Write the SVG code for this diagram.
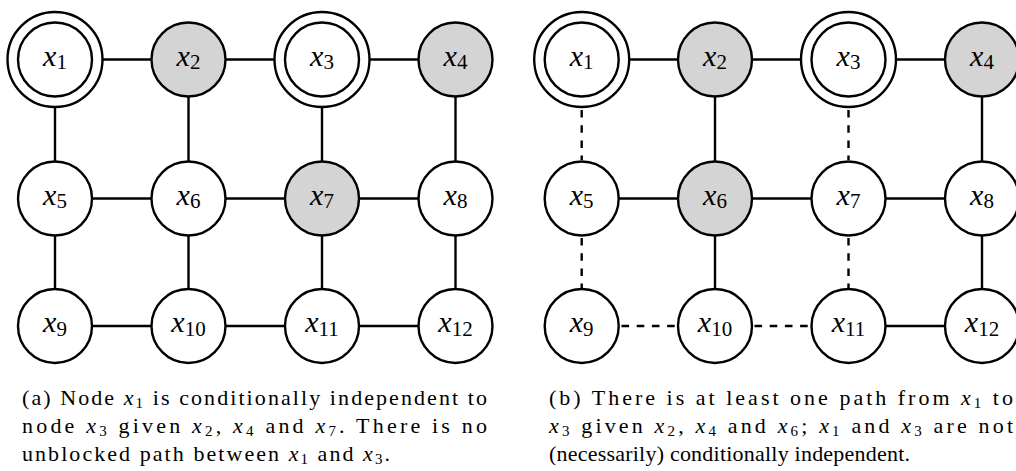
<svg xmlns="http://www.w3.org/2000/svg" width="1016" height="471" viewBox="0 0 1016 471">
<defs>
<circle id="ring" r="47.5" fill="#fff" stroke="#000" stroke-width="2.4"/>
<circle id="plain" r="37" fill="#fff" stroke="#000" stroke-width="2.4"/>
<circle id="shade" r="37" fill="#d4d4d4" stroke="#000" stroke-width="2.4"/>
</defs>
<g id="connectors" stroke="#000" stroke-width="2.4" fill="none">
 <line x1="103" y1="59.5" x2="151.5" y2="59.5"/>
 <line x1="225.5" y1="59.5" x2="274" y2="59.5"/>
 <line x1="370" y1="59.5" x2="418.5" y2="59.5"/>
 <line x1="55" y1="107.5" x2="55" y2="161.5"/>
 <line x1="188.5" y1="96.5" x2="188.5" y2="161.5"/>
 <line x1="322" y1="107.5" x2="322" y2="161.5"/>
 <line x1="455.5" y1="96.5" x2="455.5" y2="161.5"/>
 <line x1="92" y1="198.5" x2="151.5" y2="198.5"/>
 <line x1="225.5" y1="198.5" x2="285" y2="198.5"/>
 <line x1="359" y1="198.5" x2="418.5" y2="198.5"/>
 <line x1="55" y1="235.5" x2="55" y2="289"/>
 <line x1="188.5" y1="235.5" x2="188.5" y2="289"/>
 <line x1="322" y1="235.5" x2="322" y2="289"/>
 <line x1="455.5" y1="235.5" x2="455.5" y2="289"/>
 <line x1="92" y1="326" x2="151.5" y2="326"/>
 <line x1="225.5" y1="326" x2="285" y2="326"/>
 <line x1="359" y1="326" x2="418.5" y2="326"/>
 <line x1="629.7" y1="59.5" x2="678" y2="59.5"/>
 <line x1="752" y1="59.5" x2="800.5" y2="59.5"/>
 <line x1="896.5" y1="59.5" x2="945" y2="59.5"/>
 <line x1="715" y1="96.5" x2="715" y2="161.5"/>
 <line x1="982" y1="96.5" x2="982" y2="161.5"/>
 <line x1="618.7" y1="198.5" x2="678" y2="198.5"/>
 <line x1="752" y1="198.5" x2="811.5" y2="198.5"/>
 <line x1="885.5" y1="198.5" x2="945" y2="198.5"/>
 <line x1="715" y1="235.5" x2="715" y2="289"/>
 <line x1="982" y1="235.5" x2="982" y2="289"/>
 <line x1="885.5" y1="326" x2="945" y2="326"/>
 <g stroke-dasharray="7.6 7.6">
  <line x1="581.7" y1="110" x2="581.7" y2="160"/>
  <line x1="848.5" y1="110" x2="848.5" y2="160"/>
  <line x1="581.7" y1="238" x2="581.7" y2="288"/>
  <line x1="848.5" y1="238" x2="848.5" y2="288"/>
  <line x1="621.5" y1="326" x2="676" y2="326"/>
  <line x1="754.5" y1="326" x2="809" y2="326"/>
 </g>
</g>
<g id="a_x1"><use href="#ring" x="55" y="59.5"/><use href="#plain" x="55" y="59.5"/><text font-family="Liberation Serif, serif" font-size="30" text-anchor="middle" x="55" y="65.5"><tspan font-style="italic">x</tspan><tspan font-size="21" dy="3.5">1</tspan></text></g>
<g id="a_x2"><use href="#shade" x="188.5" y="59.5"/><text font-family="Liberation Serif, serif" font-size="30" text-anchor="middle" x="188.5" y="65.5"><tspan font-style="italic">x</tspan><tspan font-size="21" dy="3.5">2</tspan></text></g>
<g id="a_x3"><use href="#ring" x="322" y="59.5"/><use href="#plain" x="322" y="59.5"/><text font-family="Liberation Serif, serif" font-size="30" text-anchor="middle" x="322" y="65.5"><tspan font-style="italic">x</tspan><tspan font-size="21" dy="3.5">3</tspan></text></g>
<g id="a_x4"><use href="#shade" x="455.5" y="59.5"/><text font-family="Liberation Serif, serif" font-size="30" text-anchor="middle" x="455.5" y="65.5"><tspan font-style="italic">x</tspan><tspan font-size="21" dy="3.5">4</tspan></text></g>
<g id="a_x5"><use href="#plain" x="55" y="198.5"/><text font-family="Liberation Serif, serif" font-size="30" text-anchor="middle" x="55" y="204.5"><tspan font-style="italic">x</tspan><tspan font-size="21" dy="3.5">5</tspan></text></g>
<g id="a_x6"><use href="#plain" x="188.5" y="198.5"/><text font-family="Liberation Serif, serif" font-size="30" text-anchor="middle" x="188.5" y="204.5"><tspan font-style="italic">x</tspan><tspan font-size="21" dy="3.5">6</tspan></text></g>
<g id="a_x7"><use href="#shade" x="322" y="198.5"/><text font-family="Liberation Serif, serif" font-size="30" text-anchor="middle" x="322" y="204.5"><tspan font-style="italic">x</tspan><tspan font-size="21" dy="3.5">7</tspan></text></g>
<g id="a_x8"><use href="#plain" x="455.5" y="198.5"/><text font-family="Liberation Serif, serif" font-size="30" text-anchor="middle" x="455.5" y="204.5"><tspan font-style="italic">x</tspan><tspan font-size="21" dy="3.5">8</tspan></text></g>
<g id="a_x9"><use href="#plain" x="55" y="326"/><text font-family="Liberation Serif, serif" font-size="30" text-anchor="middle" x="55" y="332"><tspan font-style="italic">x</tspan><tspan font-size="21" dy="3.5">9</tspan></text></g>
<g id="a_x10"><use href="#plain" x="188.5" y="326"/><text font-family="Liberation Serif, serif" font-size="30" text-anchor="middle" x="188.5" y="332"><tspan font-style="italic">x</tspan><tspan font-size="21" dy="3.5">10</tspan></text></g>
<g id="a_x11"><use href="#plain" x="322" y="326"/><text font-family="Liberation Serif, serif" font-size="30" text-anchor="middle" x="322" y="332"><tspan font-style="italic">x</tspan><tspan font-size="21" dy="3.5">11</tspan></text></g>
<g id="a_x12"><use href="#plain" x="455.5" y="326"/><text font-family="Liberation Serif, serif" font-size="30" text-anchor="middle" x="455.5" y="332"><tspan font-style="italic">x</tspan><tspan font-size="21" dy="3.5">12</tspan></text></g>
<g id="b_x1"><use href="#ring" x="581.7" y="59.5"/><use href="#plain" x="581.7" y="59.5"/><text font-family="Liberation Serif, serif" font-size="30" text-anchor="middle" x="581.7" y="65.5"><tspan font-style="italic">x</tspan><tspan font-size="21" dy="3.5">1</tspan></text></g>
<g id="b_x2"><use href="#shade" x="715" y="59.5"/><text font-family="Liberation Serif, serif" font-size="30" text-anchor="middle" x="715" y="65.5"><tspan font-style="italic">x</tspan><tspan font-size="21" dy="3.5">2</tspan></text></g>
<g id="b_x3"><use href="#ring" x="848.5" y="59.5"/><use href="#plain" x="848.5" y="59.5"/><text font-family="Liberation Serif, serif" font-size="30" text-anchor="middle" x="848.5" y="65.5"><tspan font-style="italic">x</tspan><tspan font-size="21" dy="3.5">3</tspan></text></g>
<g id="b_x4"><use href="#shade" x="982" y="59.5"/><text font-family="Liberation Serif, serif" font-size="30" text-anchor="middle" x="982" y="65.5"><tspan font-style="italic">x</tspan><tspan font-size="21" dy="3.5">4</tspan></text></g>
<g id="b_x5"><use href="#plain" x="581.7" y="198.5"/><text font-family="Liberation Serif, serif" font-size="30" text-anchor="middle" x="581.7" y="204.5"><tspan font-style="italic">x</tspan><tspan font-size="21" dy="3.5">5</tspan></text></g>
<g id="b_x6"><use href="#shade" x="715" y="198.5"/><text font-family="Liberation Serif, serif" font-size="30" text-anchor="middle" x="715" y="204.5"><tspan font-style="italic">x</tspan><tspan font-size="21" dy="3.5">6</tspan></text></g>
<g id="b_x7"><use href="#plain" x="848.5" y="198.5"/><text font-family="Liberation Serif, serif" font-size="30" text-anchor="middle" x="848.5" y="204.5"><tspan font-style="italic">x</tspan><tspan font-size="21" dy="3.5">7</tspan></text></g>
<g id="b_x8"><use href="#plain" x="982" y="198.5"/><text font-family="Liberation Serif, serif" font-size="30" text-anchor="middle" x="982" y="204.5"><tspan font-style="italic">x</tspan><tspan font-size="21" dy="3.5">8</tspan></text></g>
<g id="b_x9"><use href="#plain" x="581.7" y="326"/><text font-family="Liberation Serif, serif" font-size="30" text-anchor="middle" x="581.7" y="332"><tspan font-style="italic">x</tspan><tspan font-size="21" dy="3.5">9</tspan></text></g>
<g id="b_x10"><use href="#plain" x="715" y="326"/><text font-family="Liberation Serif, serif" font-size="30" text-anchor="middle" x="715" y="332"><tspan font-style="italic">x</tspan><tspan font-size="21" dy="3.5">10</tspan></text></g>
<g id="b_x11"><use href="#plain" x="848.5" y="326"/><text font-family="Liberation Serif, serif" font-size="30" text-anchor="middle" x="848.5" y="332"><tspan font-style="italic">x</tspan><tspan font-size="21" dy="3.5">11</tspan></text></g>
<g id="b_x12"><use href="#plain" x="982" y="326"/><text font-family="Liberation Serif, serif" font-size="30" text-anchor="middle" x="982" y="332"><tspan font-style="italic">x</tspan><tspan font-size="21" dy="3.5">12</tspan></text></g>
<g id="caption_a">
 <text font-family="Liberation Serif, serif" font-size="22" x="22" y="405" textLength="465" lengthAdjust="spacing">(a) Node <tspan font-style="italic">x</tspan><tspan font-size="15" dy="3">1</tspan><tspan dy="-3"> is conditionally independent to</tspan></text>
 <text font-family="Liberation Serif, serif" font-size="22" x="22" y="433" textLength="465" lengthAdjust="spacing">node <tspan font-style="italic">x</tspan><tspan font-size="15" dy="3">3</tspan><tspan dy="-3"> given </tspan><tspan font-style="italic">x</tspan><tspan font-size="15" dy="3">2</tspan><tspan dy="-3">, </tspan><tspan font-style="italic">x</tspan><tspan font-size="15" dy="3">4</tspan><tspan dy="-3"> and </tspan><tspan font-style="italic">x</tspan><tspan font-size="15" dy="3">7</tspan><tspan dy="-3">.  There is no</tspan></text>
 <text font-family="Liberation Serif, serif" font-size="22" x="22" y="461" textLength="368" lengthAdjust="spacing">unblocked path between <tspan font-style="italic">x</tspan><tspan font-size="15" dy="3">1</tspan><tspan dy="-3"> and </tspan><tspan font-style="italic">x</tspan><tspan font-size="15" dy="3">3</tspan><tspan dy="-3">.</tspan></text>
</g>
<g id="caption_b">
 <text font-family="Liberation Serif, serif" font-size="22" x="549" y="405" textLength="464" lengthAdjust="spacing">(b) There is at least one path from <tspan font-style="italic">x</tspan><tspan font-size="15" dy="3">1</tspan><tspan dy="-3"> to</tspan></text>
 <text font-family="Liberation Serif, serif" font-size="22" x="549" y="433" textLength="464" lengthAdjust="spacing"><tspan font-style="italic">x</tspan><tspan font-size="15" dy="3">3</tspan><tspan dy="-3"> given </tspan><tspan font-style="italic">x</tspan><tspan font-size="15" dy="3">2</tspan><tspan dy="-3">, </tspan><tspan font-style="italic">x</tspan><tspan font-size="15" dy="3">4</tspan><tspan dy="-3"> and </tspan><tspan font-style="italic">x</tspan><tspan font-size="15" dy="3">6</tspan><tspan dy="-3">; </tspan><tspan font-style="italic">x</tspan><tspan font-size="15" dy="3">1</tspan><tspan dy="-3"> and </tspan><tspan font-style="italic">x</tspan><tspan font-size="15" dy="3">3</tspan><tspan dy="-3"> are not</tspan></text>
 <text font-family="Liberation Serif, serif" font-size="22" x="549" y="461" textLength="361" lengthAdjust="spacing">(necessarily) conditionally independent.</text>
</g>
</svg>
